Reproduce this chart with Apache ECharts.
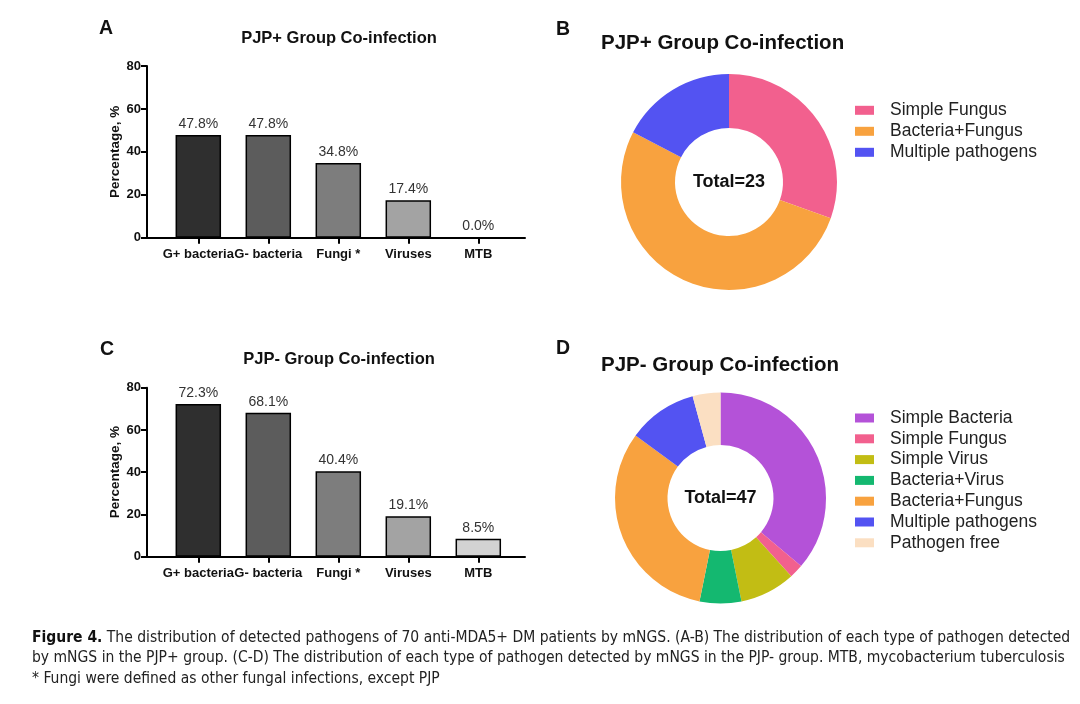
<!DOCTYPE html>
<html>
<head>
<meta charset="utf-8">
<script src="https://cdn.jsdelivr.net/npm/echarts@6/dist/echarts.min.js"></script>
<style>
html,body{margin:0;padding:0;background:#fff;}
#chart{width:1080px;height:704px;}
</style>
</head>
<body>
<div id="chart"></div>
<script>
// ---- data ----
var barCategories = ['G+ bacteria', 'G- bacteria', 'Fungi *', 'Viruses', 'MTB'];
var pjpPosBarValues = [47.8, 47.8, 34.8, 17.4, 0.0];
var pjpNegBarValues = [72.3, 68.1, 40.4, 19.1, 8.5];
var yTicks = [0, 20, 40, 60, 80];

var pjpPosPieNames = ['Simple Fungus', 'Bacteria+Fungus', 'Multiple pathogens'];
var pjpPosPieValues = [7, 12, 4];
var pjpNegPieNames = ['Simple Bacteria', 'Simple Fungus', 'Simple Virus', 'Bacteria+Virus', 'Bacteria+Fungus', 'Multiple pathogens', 'Pathogen free'];
var pjpNegPieValues = [17, 1, 4, 3, 15, 5, 2];

// ---- styles ----
var barColors = ['#2f2f2f', '#5c5c5c', '#7d7d7d', '#a3a3a3', '#d2d2d2'];
var pieColorMap = {
  'Simple Bacteria': '#b452d8',
  'Simple Fungus': '#f2608e',
  'Simple Virus': '#c2bd14',
  'Bacteria+Virus': '#14b870',
  'Bacteria+Fungus': '#f8a23f',
  'Multiple pathogens': '#5353f2',
  'Pathogen free': '#fbdfc2'
};
var FONT = 'Liberation Sans, Arial, Helvetica, sans-serif';
var CAPFONT = 'Liberation Sans Narrow, DejaVu Sans Condensed, sans-serif';

function pieData(names, values) {
  return names.map(function (n, i) {
    return { name: n, value: values[i], itemStyle: { color: pieColorMap[n] } };
  });
}
function barData(values) {
  return values.map(function (v, i) {
    return { value: v, itemStyle: { color: barColors[i] } };
  });
}

var panels = [
  { top: 66, height: 171.7 },
  { top: 387.7, height: 169 }
];

var grids = [], xAxes = [], yAxes = [], series = [];
panels.forEach(function (p, k) {
  grids.push({ left: 147, width: 378, top: p.top, height: p.height });
  grids.push({ left: 163.3, width: 350, top: p.top, height: p.height });
  var gA = k * 2, gB = k * 2 + 1;
  xAxes.push({
    gridIndex: gA, type: 'value', min: 0, max: 1,
    axisLine: { show: true, lineStyle: { color: '#000', width: 2 } },
    axisTick: { show: false }, axisLabel: { show: false }, splitLine: { show: false }
  });
  xAxes.push({
    gridIndex: gB, type: 'category', data: barCategories,
    axisLine: { show: false },
    axisTick: { show: true, alignWithLabel: true, length: 6, lineStyle: { color: '#000', width: 2 } },
    axisLabel: { color: '#111', fontFamily: FONT, fontWeight: 'bold', fontSize: 13, margin: 10, interval: 0 },
    splitLine: { show: false }
  });
  yAxes.push({
    gridIndex: gA, type: 'value', min: yTicks[0], max: yTicks[yTicks.length - 1], interval: 20,
    name: 'Percentage, %', nameLocation: 'middle', nameGap: 25, nameRotate: 90,
    nameTextStyle: { color: '#111', fontFamily: FONT, fontWeight: 'bold', fontSize: 13.5 },
    axisLine: { show: true, lineStyle: { color: '#000', width: 2 } },
    axisTick: { show: true, length: 6, lineStyle: { color: '#000', width: 2 } },
    axisLabel: { color: '#111', fontFamily: FONT, fontWeight: 'bold', fontSize: 13, margin: 6 },
    splitLine: { show: false }
  });
  yAxes.push({
    gridIndex: gB, type: 'value', min: yTicks[0], max: yTicks[yTicks.length - 1], interval: 20,
    show: false, splitLine: { show: false }
  });
  series.push({
    type: 'bar', xAxisIndex: k * 2 + 1, yAxisIndex: k * 2 + 1,
    data: barData(k === 0 ? pjpPosBarValues : pjpNegBarValues),
    barWidth: '65%',
    itemStyle: { borderColor: '#000', borderWidth: 1.5 },
    label: {
      show: true, position: 'top', distance: 4, color: '#333', fontFamily: FONT, fontSize: 14,
      formatter: function (q) { return q.value.toFixed(1) + '%'; }
    },
    silent: true
  });
});

series.push({
  type: 'pie', center: [729, 182], radius: [54, 108], startAngle: 90, clockwise: true,
  label: { show: false }, labelLine: { show: false }, silent: true, animation: false,
  data: pieData(pjpPosPieNames, pjpPosPieValues)
});
series.push({
  type: 'pie', center: [720.5, 498], radius: [53, 105.5], startAngle: 90, clockwise: true,
  label: { show: false }, labelLine: { show: false }, silent: true, animation: false,
  data: pieData(pjpNegPieNames, pjpNegPieValues)
});

function T(text, left, top, size, extra) {
  var o = {
    text: text, left: left, top: top, padding: 0,
    textStyle: { fontFamily: FONT, fontWeight: 'bold', fontSize: size, color: '#111' }
  };
  if (extra) { for (var key in extra) o[key] = extra[key]; }
  return o;
}
var mid = { textVerticalAlign: 'middle' };
var cmid = { textAlign: 'center', textVerticalAlign: 'middle' };

var titles = [
  T('A', 99, 29, 19.5, mid),
  T('B', 556, 29.5, 19.5, mid),
  T('C', 100, 349.5, 19.5, mid),
  T('D', 556, 348.7, 19.5, mid),
  T('PJP+ Group Co-infection', 339, 38, 16.5, cmid),
  T('PJP- Group Co-infection', 339, 359, 16.5, cmid),
  T('PJP+ Group Co-infection', 601, 43, 20.5, mid),
  T('PJP- Group Co-infection', 601, 365, 20.5, mid),
  T('Total=23', 729, 182, 18, cmid),
  T('Total=47', 720.5, 498, 18, cmid),
  {
    text: '{b|Figure 4.} The distribution of detected pathogens of 70 anti-MDA5+ DM patients by mNGS. (A-B) The distribution of each type of pathogen detected\nby mNGS in the PJP+ group. (C-D) The distribution of each type of pathogen detected by mNGS in the PJP- group. MTB, mycobacterium tuberculosis\n* Fungi were defined as other fungal infections, except PJP',
    left: 32, top: 627.5, padding: 0,
    textStyle: {
      fontFamily: CAPFONT, fontWeight: 'normal',
      fontSize: 15.5, color: '#222', lineHeight: 20.5,
      rich: { b: { fontFamily: CAPFONT, fontWeight: 'bold', fontSize: 15.5, color: '#111', lineHeight: 20.5 } }
    }
  }
];

var legendText = { fontFamily: FONT, fontSize: 17.5, color: '#222', lineHeight: 17.5, padding: [0, 0, 0, 11] };
var option = {
  backgroundColor: '#fff',
  animation: false,
  title: titles,
  grid: grids,
  xAxis: xAxes,
  yAxis: yAxes,
  legend: [
    { data: pjpPosPieNames, orient: 'vertical', left: 855, top: 101.3, padding: 0, icon: 'rect',
      itemWidth: 19, itemHeight: 9, itemGap: 3, selectedMode: false, textStyle: legendText },
    { data: pjpNegPieNames, orient: 'vertical', left: 855, top: 409, padding: 0, icon: 'rect',
      itemWidth: 19, itemHeight: 9, itemGap: 2.8, selectedMode: false, textStyle: legendText }
  ],
  series: series
};

var chart = echarts.init(document.getElementById('chart'), null, { renderer: 'canvas' });
chart.setOption(option);
</script>
</body>
</html>
